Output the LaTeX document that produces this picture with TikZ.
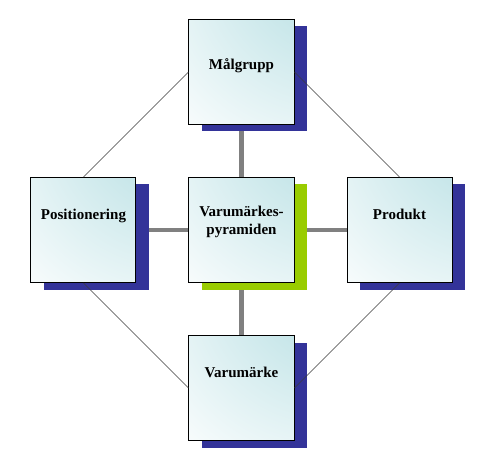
\documentclass[tikz,border=0pt]{standalone}
\usepackage{fontspec}
\setmainfont{Liberation Serif}
\usetikzlibrary{positioning, shadows, backgrounds}
\definecolor{glowcolor}{RGB}{185, 224, 228}
\definecolor{shadowblue}{RGB}{51, 51, 153}
\definecolor{shadowgreen}{RGB}{153, 204, 0}
\definecolor{linkgray}{RGB}{128, 128, 128}
\definecolor{rimgray}{RGB}{60, 60, 60}
\pgfdeclareradialshading{boxglow}{\pgfpoint{60bp}{70bp}}{color(0bp)=(glowcolor); color(25bp)=(glowcolor); color(95bp)=(white); color(200bp)=(white)}
\tikzstyle{boxbase} = [rectangle, draw=black, line width=1bp,
                       minimum width=105bp, minimum height=105bp,
                       shade, shading=boxglow, text centered, align=center,
                       font=\bfseries\fontsize{15bp}{18.3bp}\selectfont,
                       text height=11bp, text depth=32bp]
\tikzstyle{block} = [boxbase, drop shadow={shadow xshift=13bp, shadow yshift=-7bp,
                     fill=shadowblue, opacity=1}]
\tikzstyle{core} = [boxbase, drop shadow={shadow xshift=13bp, shadow yshift=-7bp,
                    fill=shadowgreen, opacity=1}, text depth=2.4bp]
\tikzstyle{hub} = [line width=4bp, draw=linkgray]
\tikzstyle{rim} = [line width=0.7bp, draw=rimgray]

\begin{document}
\begin{tikzpicture}[node distance=52bp]
        \useasboundingbox (-241.5bp, 230bp) rectangle (251.5bp, -225bp);
        
        \node (pyramid) [core] {Varumärkes-\\pyramiden};
        
        \node (malgrupp) [block, above=of pyramid, text depth=16.5bp] {Målgrupp};
        
        \node (position) [block, left=of pyramid] {Positionering};
        
        \node (produkt) [block, right=of pyramid] {Produkt};
        
        \node (varumarke) [block, below=of pyramid] {Varumärke};
        
        \begin{scope}[on background layer]
        \draw [hub] (pyramid) -- (malgrupp);
        \draw [hub] (pyramid) -- (position);
        \draw [hub] (pyramid) -- (produkt);
        \draw [hub] (pyramid) -- (varumarke);
        \end{scope}
        
        \draw [rim] (malgrupp.west) -- (position.north);
        \draw [rim] (malgrupp.east) -- (produkt.north);
        \draw [rim] (position.south) -- (varumarke.west);
        \draw [rim] (produkt.south) -- (varumarke.east);
        
    \end{tikzpicture}
\end{document}
